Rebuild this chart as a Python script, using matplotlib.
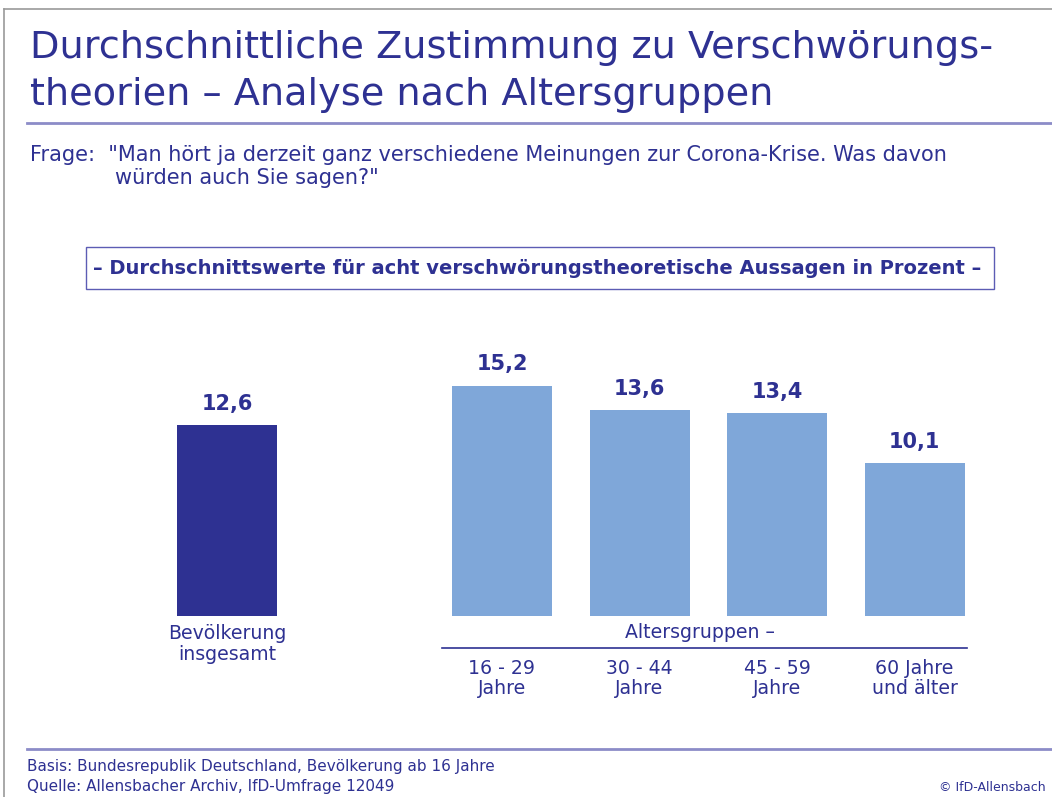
import matplotlib
matplotlib.use("Agg")
import matplotlib.pyplot as plt
from matplotlib.patches import Rectangle

plt.rcParams['font.family'] = ['DejaVu Sans']

# data
total_label = "Bevölkerung\ninsgesamt"
total_value = 12.6
age_labels = ["16 - 29\nJahre", "30 - 44\nJahre", "45 - 59\nJahre", "60 Jahre\nund älter"]
age_values = [15.2, 13.6, 13.4, 10.1]

question_1 = 'Frage:  "Man hört ja derzeit ganz verschiedene Meinungen zur Corona-Krise. Was davon'
question_2 = 'würden auch Sie sagen?"'
subtitle = "– Durchschnittswerte für acht verschwörungstheoretische Aussagen in Prozent –"
footer_1 = "Basis: Bundesrepublik Deutschland, Bevölkerung ab 16 Jahre"
footer_2 = "Quelle: Allensbacher Archiv, IfD-Umfrage 12049"
copyright = "© IfD-Allensbach"

navy = "#2e3192"
light = "#7fa7d9"
rule = "#8c8cc8"

W, H = 1052, 797
fig = plt.figure(figsize=(W / 100, H / 100), dpi=100)

# overlay in pixel coordinates for the page furniture
pg = fig.add_axes([0, 0, 1, 1])
pg.set_xlim(0, W)
pg.set_ylim(H, 0)
pg.axis("off")

# page frame
pg.plot([4, W], [9, 9], color="#9a9a9a", lw=1.2)
pg.plot([4, 4], [9, H], color="#9a9a9a", lw=1.2)

# title
pg.text(30, 58, "Durchschnittliche Zustimmung zu Verschwörungs-", fontsize=27.5,
        color=navy, va="baseline", ha="left")
pg.text(30, 105, "theorien – Analyse nach Altersgruppen", fontsize=27.5,
        color=navy, va="baseline", ha="left")
pg.plot([27, W], [123, 123], color=rule, lw=2)

# question
pg.text(30, 161, question_1, fontsize=15, color=navy, va="baseline", ha="left")
pg.text(115, 184, question_2, fontsize=15, color=navy, va="baseline", ha="left")

# subtitle box
pg.add_patch(Rectangle((86, 247), 908, 42, fill=False, edgecolor="#5c5cb4", lw=1))
pg.text(537, 268, subtitle, fontsize=14, fontweight="bold", color=navy,
        ha="center", va="center")

# bars
unit = 137.5
x0 = 227 - 0.5 * unit
ax_w = 6 * unit
ax_bottom = 616
ax_top = 336
ymax = (ax_bottom - ax_top) / 15.16
ax = fig.add_axes([x0 / W, (H - ax_bottom) / H, ax_w / W, (ax_bottom - ax_top) / H])
ax.set_xlim(-0.5, 5.5)
ax.set_ylim(0, ymax)
ax.axis("off")

pos_total = 0
pos_age = [2, 3, 4, 5]
bw = 100 / unit

ax.bar(pos_total, total_value, width=bw, color=navy)
ax.bar(pos_age, age_values, width=bw, color=light)

for p, v in zip([pos_total] + pos_age, [total_value] + age_values):
    ax.annotate(f"{v:.1f}".replace(".", ","), xy=(p, v), xytext=(0, 8),
                textcoords="offset points", ha="center", va="bottom",
                fontsize=15, fontweight="bold", color=navy)

# category labels
ax.annotate(total_label, xy=(pos_total, 0), xytext=(0, -8), textcoords="offset pixels",
            ha="center", va="top", fontsize=13.6, color=navy, linespacing=1.1,
            annotation_clip=False)
for p, lab in zip(pos_age, age_labels):
    ax.annotate(lab, xy=(p, 0), xytext=(0, -43), textcoords="offset pixels",
                ha="center", va="top", fontsize=13.6, color=navy, linespacing=1.1,
                annotation_clip=False)

# age group header
pg.text(700, 632, "Altersgruppen –", fontsize=13.6, color=navy, ha="center", va="center")
pg.plot([442, 967], [648, 648], color=navy, lw=1.2)

# footer
pg.plot([27, W], [749, 749], color=rule, lw=2)
pg.text(27, 771, footer_1, fontsize=11, color=navy, va="baseline", ha="left")
pg.text(27, 791, footer_2, fontsize=11, color=navy, va="baseline", ha="left")
pg.text(1046, 791, copyright, fontsize=9, color=navy, va="baseline", ha="right")

fig.savefig("out.png", dpi=100)
